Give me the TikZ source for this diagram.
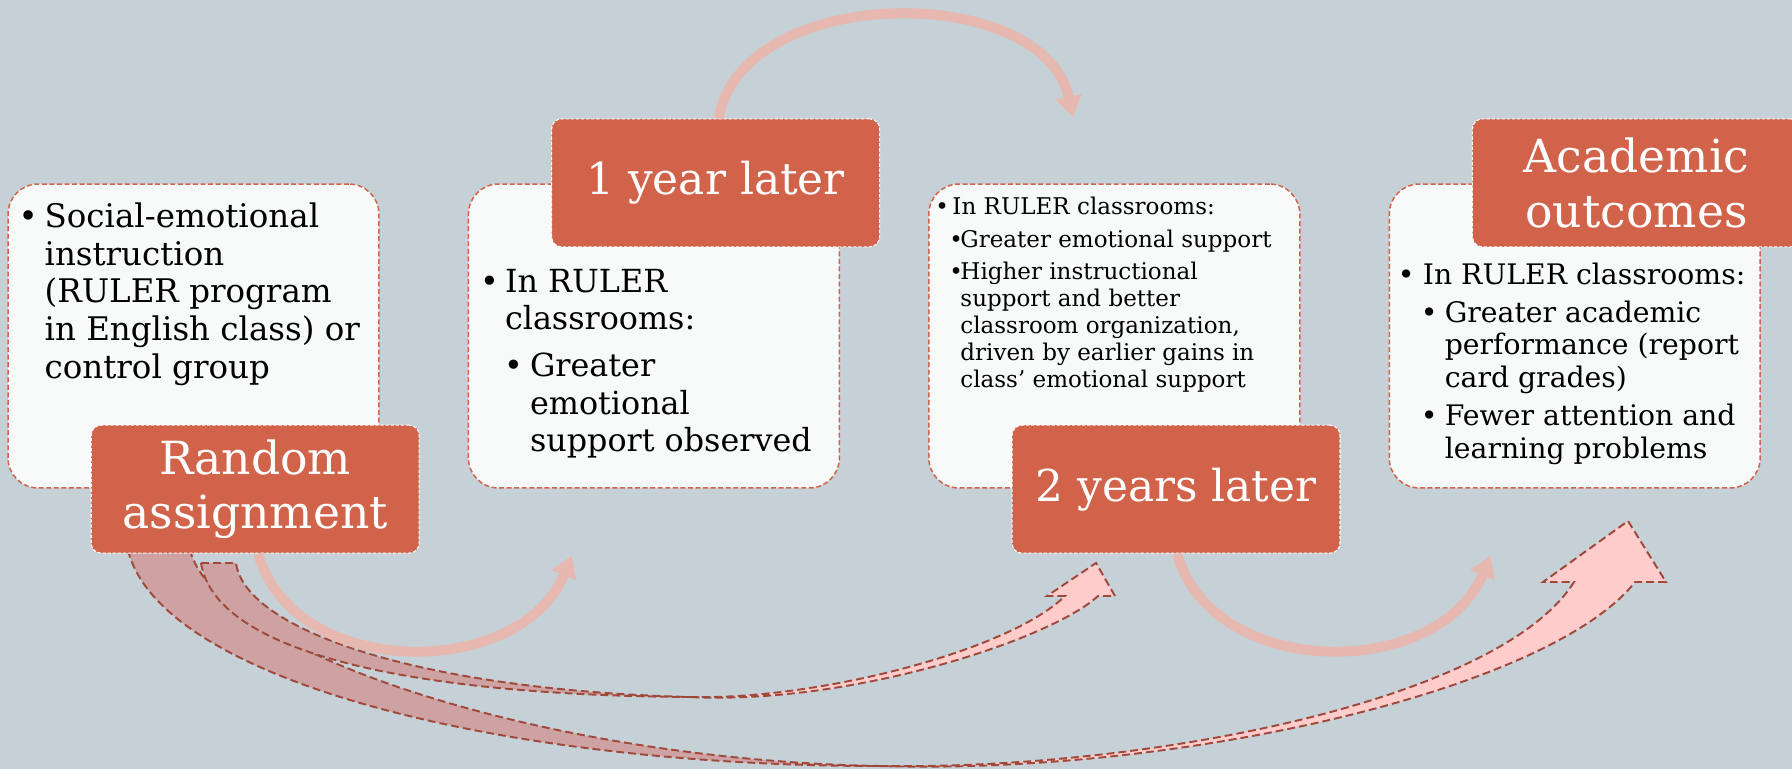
\documentclass[tikz,border=0pt]{standalone}
\usepackage{fontspec}
\setmainfont{DejaVu Serif}
\usepackage{tikz}
\usetikzlibrary{positioning, calc, arrows.meta}

\definecolor{slate}{RGB}{197,209,215}
\definecolor{rust}{RGB}{208,99,74}
\definecolor{paper}{RGB}{248,249,249}
\definecolor{blush}{RGB}{230,184,175}
\definecolor{rosefill}{RGB}{255,204,204}
\definecolor{rosedark}{RGB}{206,162,162}
\definecolor{rimline}{RGB}{160,72,58}

% bullet item: left skip, hang, lines
\newcommand{\bpoint}[3]{\leftskip=#1\hangindent=#2\hangafter=1\noindent\makebox[#2][l]{\textbullet}#3\par}

\begin{document}
\begin{tikzpicture}[x=0.02cm, y=-0.02cm,
  bodybox/.style={draw=rust, fill=paper, line width=0.85pt, dash pattern=on 2.8pt off 1.5pt,
    rounded corners=0.6cm, minimum width=7.42cm, minimum height=6.08cm, inner sep=0pt},
  tagbox/.style={draw=white, fill=rust, line width=0.6pt, dash pattern=on 1.9pt off 1pt,
    rounded corners=0.2cm, minimum width=6.56cm, minimum height=2.56cm, inner sep=0pt,
    text=white, align=center},
  bodytext/.style={inner sep=0pt, anchor=base west},
  flowarrow/.style={draw=blush, line width=0.2cm, -{Triangle[length=0.42cm, width=0.5cm]}},
  ribbonback/.style={fill=rosedark, draw=rimline, line width=1.1pt, dash pattern=on 4.5pt off 2.3pt},
  ribbonfront/.style={fill=rosefill, draw=rimline, line width=1.1pt, dash pattern=on 4.5pt off 2.3pt}]

  \fill[slate] (0,0) rectangle (1792,769);
  \useasboundingbox (0,0) rectangle (1792,769);

  % long ribbons from the random assignment
  \path[ribbonback] (128,550) .. controls (160,680) and (500,766) .. (880,766)
    .. controls (540,760) and (215,650) .. (190,550) -- cycle;
  \path[ribbonfront] (880,766) .. controls (1150,770) and (1500,700) .. (1574,582)
    -- (1543,582) -- (1628,521) -- (1666,582) -- (1635,582)
    .. controls (1550,690) and (1180,775) .. (880,766) -- cycle;
  \path[ribbonback] (201,563) .. controls (215,650) and (400,695) .. (690,697)
    .. controls (420,690) and (245,630) .. (236,563) -- cycle;
  \path[ribbonfront] (690,697) .. controls (820,700) and (1010,650) .. (1065,596)
    -- (1047,596) -- (1096,563) -- (1115,596) -- (1098,596)
    .. controls (1050,640) and (850,705) .. (690,697) -- cycle;

  % boxes
  \node[bodybox] (instr) at (193.5,336) {};
  \node[bodybox, right=1.76cm of instr] (obs1) {};
  \node[bodybox, right=1.76cm of obs1] (obs2) {};
  \node[bodybox, right=1.76cm of obs2] (acad) {};

  \coordinate (tip1) at ([xshift=2.08cm,yshift=-1.34cm]obs1.south west);
  \coordinate (tip2) at ([xshift=2.9cm,yshift=1.32cm]obs2.north west);
  \coordinate (tip3) at ([xshift=2.04cm,yshift=-1.34cm]acad.south west);

  \node[tagbox, anchor=south east, font=\fontsize{26}{31.2}\selectfont] (rand)
    at ([xshift=0.8cm,yshift=-1.3cm]instr.south east) {Random\\assignment};
  \node[tagbox, anchor=north east, font=\fontsize{25}{30}\selectfont] (later1)
    at ([xshift=0.8cm,yshift=1.3cm]obs1.north east) {1 year later};
  \node[tagbox, anchor=south east, font=\fontsize{25}{30}\selectfont] (later2)
    at ([xshift=0.8cm,yshift=-1.3cm]obs2.south east) {2 years later};
  \node[tagbox, anchor=north east, font=\fontsize{26}{31.2}\selectfont] (outc)
    at ([xshift=0.8cm,yshift=1.3cm]acad.north east) {Academic\\outcomes};

  % short arrows
  \draw[flowarrow] ([xshift=0.06cm]rand.south) .. controls +(35,127) and +(-51,125) .. (tip1);
  \draw[flowarrow] ([xshift=0.06cm]later1.north) .. controls +(24,-136) and +(-29,-136) .. (tip2);
  \draw[flowarrow] ([xshift=0.02cm]later2.south) .. controls +(36,127) and +(-52,125) .. (tip3);

  % texts
  \node[bodytext, font=\fontsize{18.5}{21.5}\selectfont] (instrTxt)
    at ([xshift=0.22cm,yshift=-0.88cm]instr.north west)
    {\parbox[t]{7.2cm}{\bpoint{0pt}{0.52cm}{Social-emotional\\instruction\\(RULER program\\in English class) or\\control group}}};
  \node[bodytext, font=\fontsize{18.1}{21.3}\selectfont] (obs1Txt)
    at ([xshift=0.24cm,yshift=-2.18cm]obs1.north west)
    {\parbox[t]{7.2cm}{\bpoint{0pt}{0.5cm}{In RULER\\classrooms:}\vspace{5.4pt}
     \bpoint{0.48cm}{0.52cm}{Greater\\emotional\\support observed}}};
  \node[bodytext, font=\fontsize{13.1}{15.3}\selectfont] (obs2Txt)
    at ([xshift=0.14cm,yshift=-0.62cm]obs2.north west)
    {\parbox[t]{7.2cm}{\bpoint{0pt}{0.34cm}{In RULER classrooms:}\vspace{3.4pt}
     \bpoint{0.28cm}{0.22cm}{Greater emotional support}\vspace{3.4pt}
     \bpoint{0.28cm}{0.22cm}{Higher instructional\\support and better\\classroom organization,\\driven by earlier gains in\\class’ emotional support}}};
  \node[bodytext, font=\fontsize{16.1}{18.7}\selectfont] (acadTxt)
    at ([xshift=0.18cm,yshift=-2.02cm]acad.north west)
    {\parbox[t]{7.2cm}{\bpoint{0pt}{0.5cm}{In RULER classrooms:}\vspace{2.8pt}
     \bpoint{0.46cm}{0.48cm}{Greater academic\\performance (report\\card grades)}\vspace{2.8pt}
     \bpoint{0.46cm}{0.48cm}{Fewer attention and\\learning problems}}};
\end{tikzpicture}
\end{document}
